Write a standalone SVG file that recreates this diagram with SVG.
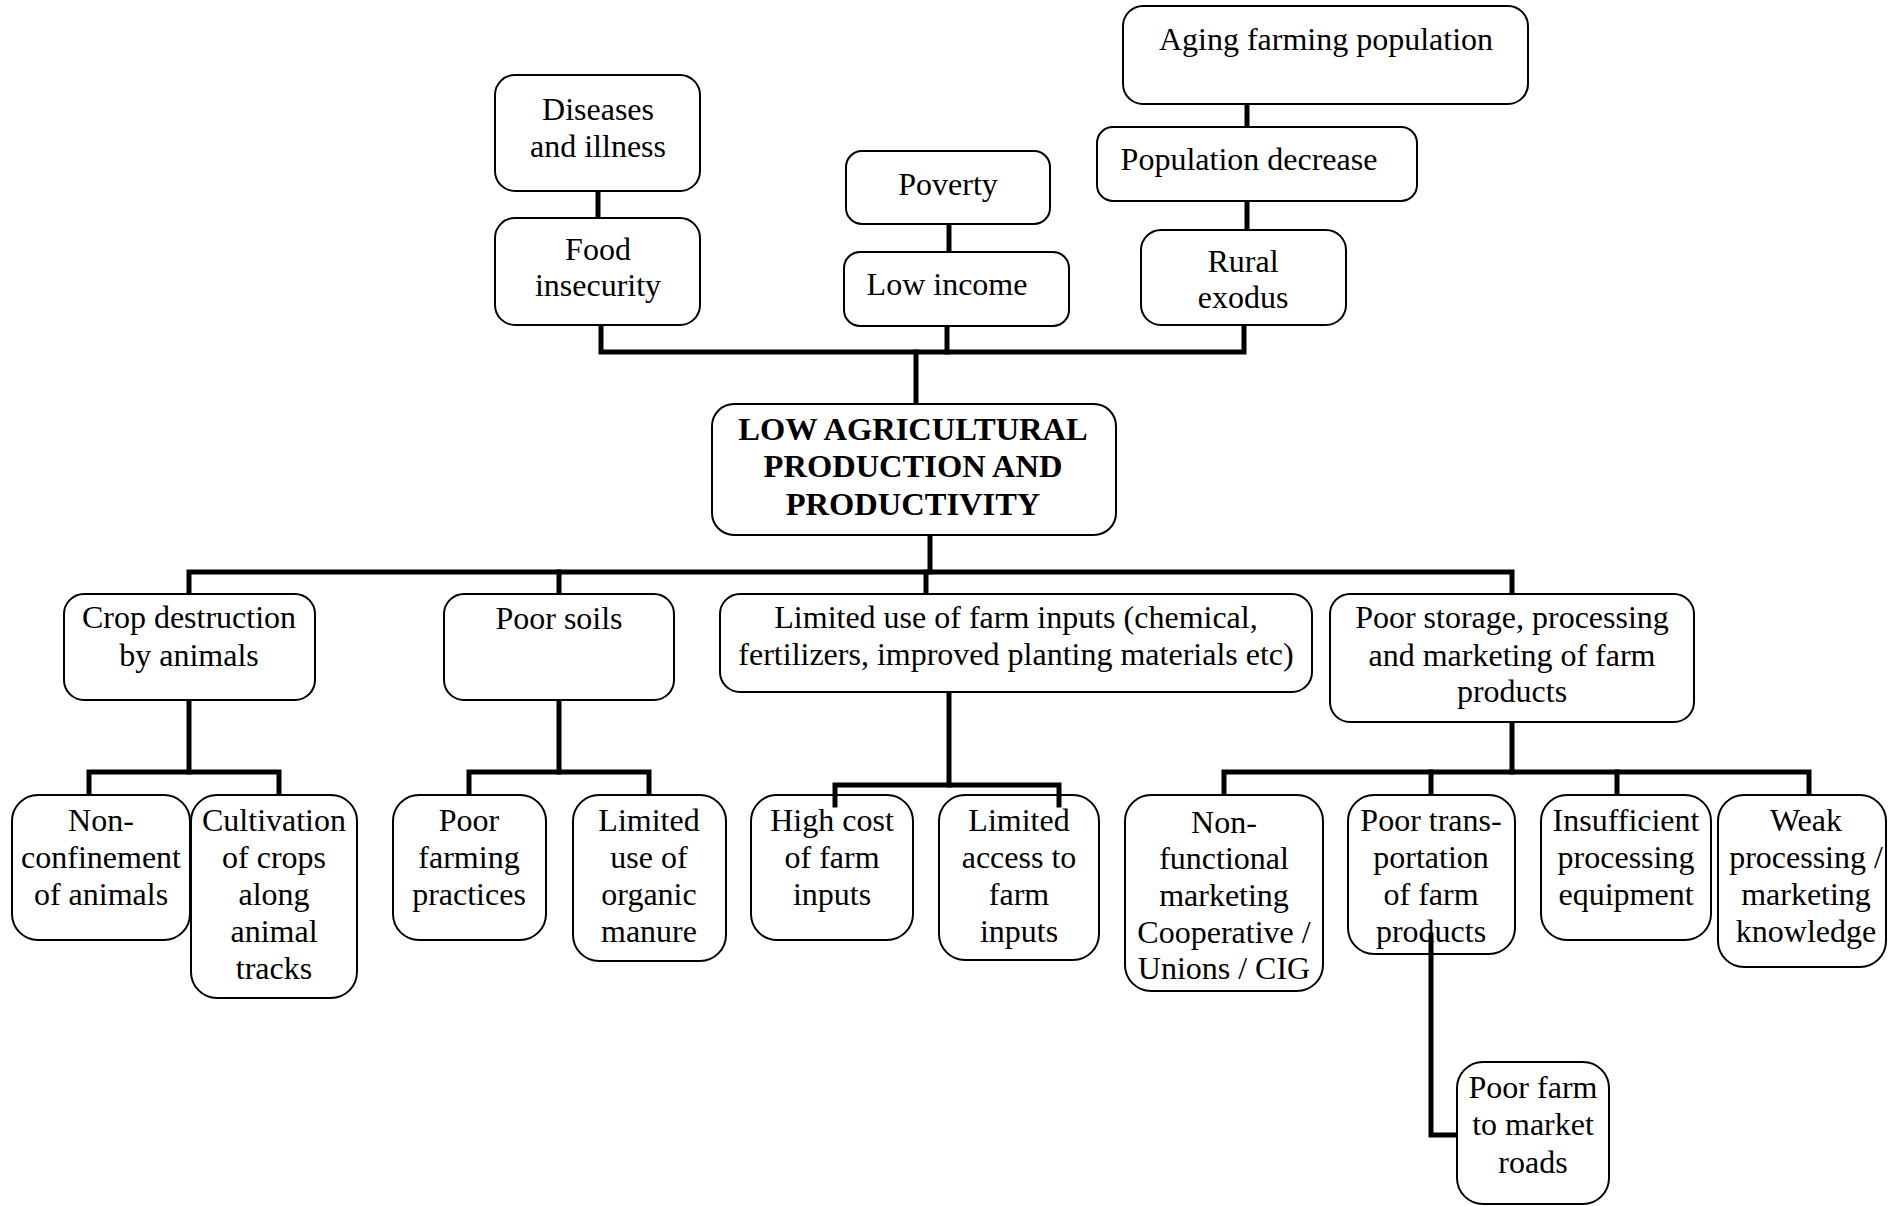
<svg xmlns="http://www.w3.org/2000/svg" width="1888" height="1206" viewBox="0 0 1888 1206">
  <style>
    .box { fill: #ffffff; stroke: #000000; stroke-width: 2; }
    .lbl { font-family: "Liberation Serif", "Times New Roman", serif; font-size: 32px; fill: #000000; text-anchor: middle; }
    .title { font-family: "Liberation Serif", "Times New Roman", serif; font-size: 32.5px; font-weight: bold; fill: #000000; text-anchor: middle; }
    .link { fill: none; stroke: #000000; stroke-width: 5; stroke-linecap: square; stroke-linejoin: miter; }
  </style>
  <rect width="1888" height="1206" fill="#ffffff"/>

  <!-- upper causes -->
  <g id="diseases">
    <rect class="box" x="495" y="75" width="205" height="116" rx="20"/>
    <text class="lbl" x="598" y="120">Diseases</text>
    <text class="lbl" x="598" y="157">and illness</text>
  </g>
  <g id="food-insecurity">
    <rect class="box" x="495" y="218" width="205" height="107" rx="20"/>
    <text class="lbl" x="598" y="260">Food</text>
    <text class="lbl" x="598" y="296">insecurity</text>
  </g>
  <g id="poverty">
    <rect class="box" x="846" y="151" width="204" height="73" rx="16"/>
    <text class="lbl" x="948" y="195">Poverty</text>
  </g>
  <g id="low-income">
    <rect class="box" x="844" y="252" width="225" height="74" rx="16"/>
    <text class="lbl" x="947" y="295">Low income</text>
  </g>
  <g id="aging">
    <rect class="box" x="1123" y="6" width="405" height="98" rx="20"/>
    <text class="lbl" x="1326" y="50">Aging farming population</text>
  </g>
  <g id="population-decrease">
    <rect class="box" x="1097" y="127" width="320" height="74" rx="16"/>
    <text class="lbl" x="1249" y="170">Population decrease</text>
  </g>
  <g id="rural-exodus">
    <rect class="box" x="1141" y="230" width="205" height="95" rx="20"/>
    <text class="lbl" x="1243" y="272">Rural</text>
    <text class="lbl" x="1243" y="308">exodus</text>
  </g>

  <!-- central problem -->
  <g id="core-problem">
    <rect class="box" x="712" y="404" width="404" height="131" rx="22"/>
    <text class="title" x="913" y="440">LOW AGRICULTURAL</text>
    <text class="title" x="913" y="477">PRODUCTION AND</text>
    <text class="title" x="913" y="515">PRODUCTIVITY</text>
  </g>

  <!-- main branches -->
  <g id="crop-destruction">
    <rect class="box" x="64" y="594" width="251" height="106" rx="20"/>
    <text class="lbl" x="189" y="628">Crop destruction</text>
    <text class="lbl" x="189" y="666">by animals</text>
  </g>
  <g id="poor-soils">
    <rect class="box" x="444" y="594" width="230" height="106" rx="20"/>
    <text class="lbl" x="559" y="629">Poor soils</text>
  </g>
  <g id="farm-inputs">
    <rect class="box" x="720" y="594" width="592" height="98" rx="20"/>
    <text class="lbl" x="1016" y="628">Limited use of farm inputs (chemical,</text>
    <text class="lbl" x="1016" y="665">fertilizers, improved planting materials etc)</text>
  </g>
  <g id="storage">
    <rect class="box" x="1330" y="594" width="364" height="128" rx="20"/>
    <text class="lbl" x="1512" y="628">Poor storage, processing</text>
    <text class="lbl" x="1512" y="666">and marketing of farm</text>
    <text class="lbl" x="1512" y="702">products</text>
  </g>

  <!-- sub causes -->
  <g id="non-confinement">
    <rect class="box" x="12" y="795" width="178" height="145" rx="26"/>
    <text class="lbl" x="101" y="831">Non-</text>
    <text class="lbl" x="101" y="868">confinement</text>
    <text class="lbl" x="101" y="905">of animals</text>
  </g>
  <g id="cultivation">
    <rect class="box" x="191" y="795" width="166" height="203" rx="26"/>
    <text class="lbl" x="274" y="831">Cultivation</text>
    <text class="lbl" x="274" y="868">of crops</text>
    <text class="lbl" x="274" y="905">along</text>
    <text class="lbl" x="274" y="942">animal</text>
    <text class="lbl" x="274" y="979">tracks</text>
  </g>
  <g id="farming-practices">
    <rect class="box" x="393" y="795" width="153" height="145" rx="26"/>
    <text class="lbl" x="469" y="831">Poor</text>
    <text class="lbl" x="469" y="868">farming</text>
    <text class="lbl" x="469" y="905">practices</text>
  </g>
  <g id="organic-manure">
    <rect class="box" x="573" y="795" width="153" height="166" rx="26"/>
    <text class="lbl" x="649" y="831">Limited</text>
    <text class="lbl" x="649" y="868">use of</text>
    <text class="lbl" x="649" y="905">organic</text>
    <text class="lbl" x="649" y="942">manure</text>
  </g>
  <g id="high-cost">
    <rect class="box" x="751" y="795" width="162" height="145" rx="26"/>
    <text class="lbl" x="832" y="831">High cost</text>
    <text class="lbl" x="832" y="868">of farm</text>
    <text class="lbl" x="832" y="905">inputs</text>
  </g>
  <g id="limited-access">
    <rect class="box" x="939" y="795" width="160" height="165" rx="26"/>
    <text class="lbl" x="1019" y="831">Limited</text>
    <text class="lbl" x="1019" y="868">access to</text>
    <text class="lbl" x="1019" y="905">farm</text>
    <text class="lbl" x="1019" y="942">inputs</text>
  </g>
  <g id="cooperatives">
    <rect class="box" x="1125" y="795" width="198" height="196" rx="26"/>
    <text class="lbl" x="1224" y="833">Non-</text>
    <text class="lbl" x="1224" y="869">functional</text>
    <text class="lbl" x="1224" y="906">marketing</text>
    <text class="lbl" x="1224" y="943">Cooperative /</text>
    <text class="lbl" x="1224" y="979">Unions / CIG</text>
  </g>
  <g id="transportation">
    <rect class="box" x="1348" y="795" width="167" height="159" rx="26"/>
    <text class="lbl" x="1431" y="831">Poor trans-</text>
    <text class="lbl" x="1431" y="868">portation</text>
    <text class="lbl" x="1431" y="905">of farm</text>
    <text class="lbl" x="1431" y="942">products</text>
  </g>
  <g id="equipment">
    <rect class="box" x="1541" y="795" width="170" height="145" rx="26"/>
    <text class="lbl" x="1626" y="831">Insufficient</text>
    <text class="lbl" x="1626" y="868">processing</text>
    <text class="lbl" x="1626" y="905">equipment</text>
  </g>
  <g id="knowledge">
    <rect class="box" x="1718" y="795" width="168" height="172" rx="26"/>
    <text class="lbl" x="1806" y="831">Weak</text>
    <text class="lbl" x="1806" y="868">processing /</text>
    <text class="lbl" x="1806" y="905">marketing</text>
    <text class="lbl" x="1806" y="942">knowledge</text>
  </g>
  <g id="roads">
    <rect class="box" x="1457" y="1062" width="152" height="142" rx="26"/>
    <text class="lbl" x="1533" y="1098">Poor farm</text>
    <text class="lbl" x="1533" y="1135">to market</text>
    <text class="lbl" x="1533" y="1173">roads</text>
  </g>

  <!-- connectors -->
  <g id="connectors">
    <!-- upper chains -->
    <path class="link" d="M598 194 V215"/>
    <path class="link" d="M949 227 V249"/>
    <path class="link" d="M1247 107 V124"/>
    <path class="link" d="M1247 204 V227"/>
    <!-- upper bus into core problem -->
    <path class="link" d="M601 328 V352 H1244 V328"/>
    <path class="link" d="M947 329 V352"/>
    <path class="link" d="M916 352 V401"/>
    <!-- lower bus from core problem -->
    <path class="link" d="M930 538 V572"/>
    <path class="link" d="M189 591 V572 H1512 V591"/>
    <path class="link" d="M559 572 V591"/>
    <path class="link" d="M926 572 V591"/>
    <!-- crop destruction -->
    <path class="link" d="M189 703 V772"/>
    <path class="link" d="M89 792 V772 H279 V792"/>
    <!-- poor soils -->
    <path class="link" d="M559 703 V772"/>
    <path class="link" d="M469 792 V772 H649 V792"/>
    <!-- farm inputs -->
    <path class="link" d="M949 695 V785"/>
    <path class="link" d="M835 805 V785 H1059 V805"/>
    <!-- storage -->
    <path class="link" d="M1512 725 V772"/>
    <path class="link" d="M1224 792 V772 H1809 V792"/>
    <path class="link" d="M1431 772 V792"/>
    <path class="link" d="M1617 772 V792"/>
    <!-- transportation to roads -->
    <path class="link" d="M1431 935 V1135 H1455" stroke-linecap="butt"/>
  </g>
</svg>
